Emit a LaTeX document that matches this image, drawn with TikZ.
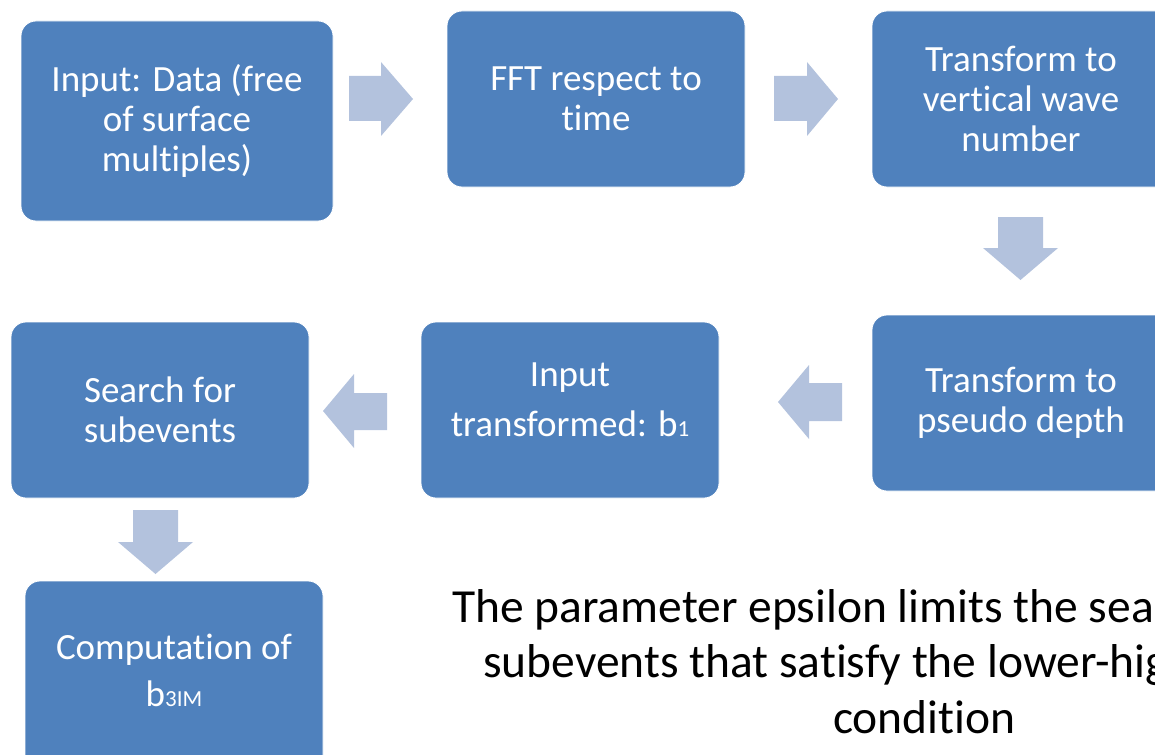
\documentclass[tikz,border=0pt]{standalone}
\usepackage{fontspec}
\setmainfont{Carlito}[Ligatures={NoCommon}]
\definecolor{boxblue}{HTML}{4F81BD}
\definecolor{arrowblue}{HTML}{B3C2DD}
\begin{document}
\begin{tikzpicture}[x=1pt,y=-1pt,
  flowbox/.style={draw=white, line width=0.8pt, fill=boxblue, rounded corners=15pt, inner sep=0pt},
  boxtext/.style={text=white, align=center, font=\fontsize{37}{40}\selectfont},
  blockarrow/.style={fill=arrowblue}]
\useasboundingbox (0,0) rectangle (1155,754);
\clip (0,0) rectangle (1155,754);
% boxes
\path[flowbox] (21,21) rectangle (333,221);
\path[flowbox] (447,11) rectangle (745,187);
\path[flowbox] (872,11) rectangle (1170,187);
\path[flowbox] (872,315) rectangle (1170,491);
\path[flowbox] (421,322) rectangle (719,498);
\path[flowbox] (11,322) rectangle (309,498);
\path[flowbox] (25,581) rectangle (323,770);
% texts
\node[boxtext] (b1) at (177,121) {Input: Data (free\\of surface\\multiples)};
\node[boxtext] (b2) at (596,99) {FFT respect to\\time};
\node[boxtext] (b3) at (1021,99) {Transform to\\vertical wave\\number};
\node[boxtext] (b4) at (1021,403) {Transform to\\pseudo depth};
\node[boxtext, font=\fontsize{37}{50}\selectfont] (b5) at (570,400) {Input\\transformed: b{\fontsize{23}{23}\selectfont 1}};
\node[boxtext] (b6) at (160,410) {Search for\\subevents};
\node[boxtext, font=\fontsize{37}{47}\selectfont] (b7) at (174,670) {Computation of\\b{\fontsize{23}{23}\selectfont 3IM}};
% block arrows
\fill[blockarrow] (349,76) -- (381,76) -- (381,62) -- (413,99) -- (381,136) -- (381,121) -- (349,121) -- cycle;
\fill[blockarrow] (774,76) -- (807,76) -- (807,62) -- (838,99) -- (807,136) -- (807,121) -- (774,121) -- cycle;
\fill[blockarrow] (998,217) -- (1043,217) -- (1043,248) -- (1058,248) -- (1020.5,280) -- (983,248) -- (998,248) -- cycle;
\fill[blockarrow] (842,383) -- (809,383) -- (809,365) -- (778,402) -- (809,439) -- (809,421) -- (842,421) -- cycle;
\fill[blockarrow] (387,393) -- (354,393) -- (354,374) -- (323,411) -- (354,448) -- (354,430) -- (387,430) -- cycle;
\fill[blockarrow] (133,510) -- (178,510) -- (178,542) -- (193,542) -- (155.5,574) -- (118,542) -- (133,542) -- cycle;
% note
\node[align=left, font=\fontsize{47.5}{55.5}\selectfont, anchor=north west, inner sep=0pt] (note) at (452,589)
  {The parameter epsilon limits the search for the\\\hspace*{31pt}subevents that satisfy the lower-higher-lower\\\hspace*{381pt}condition};
\end{tikzpicture}
\end{document}
